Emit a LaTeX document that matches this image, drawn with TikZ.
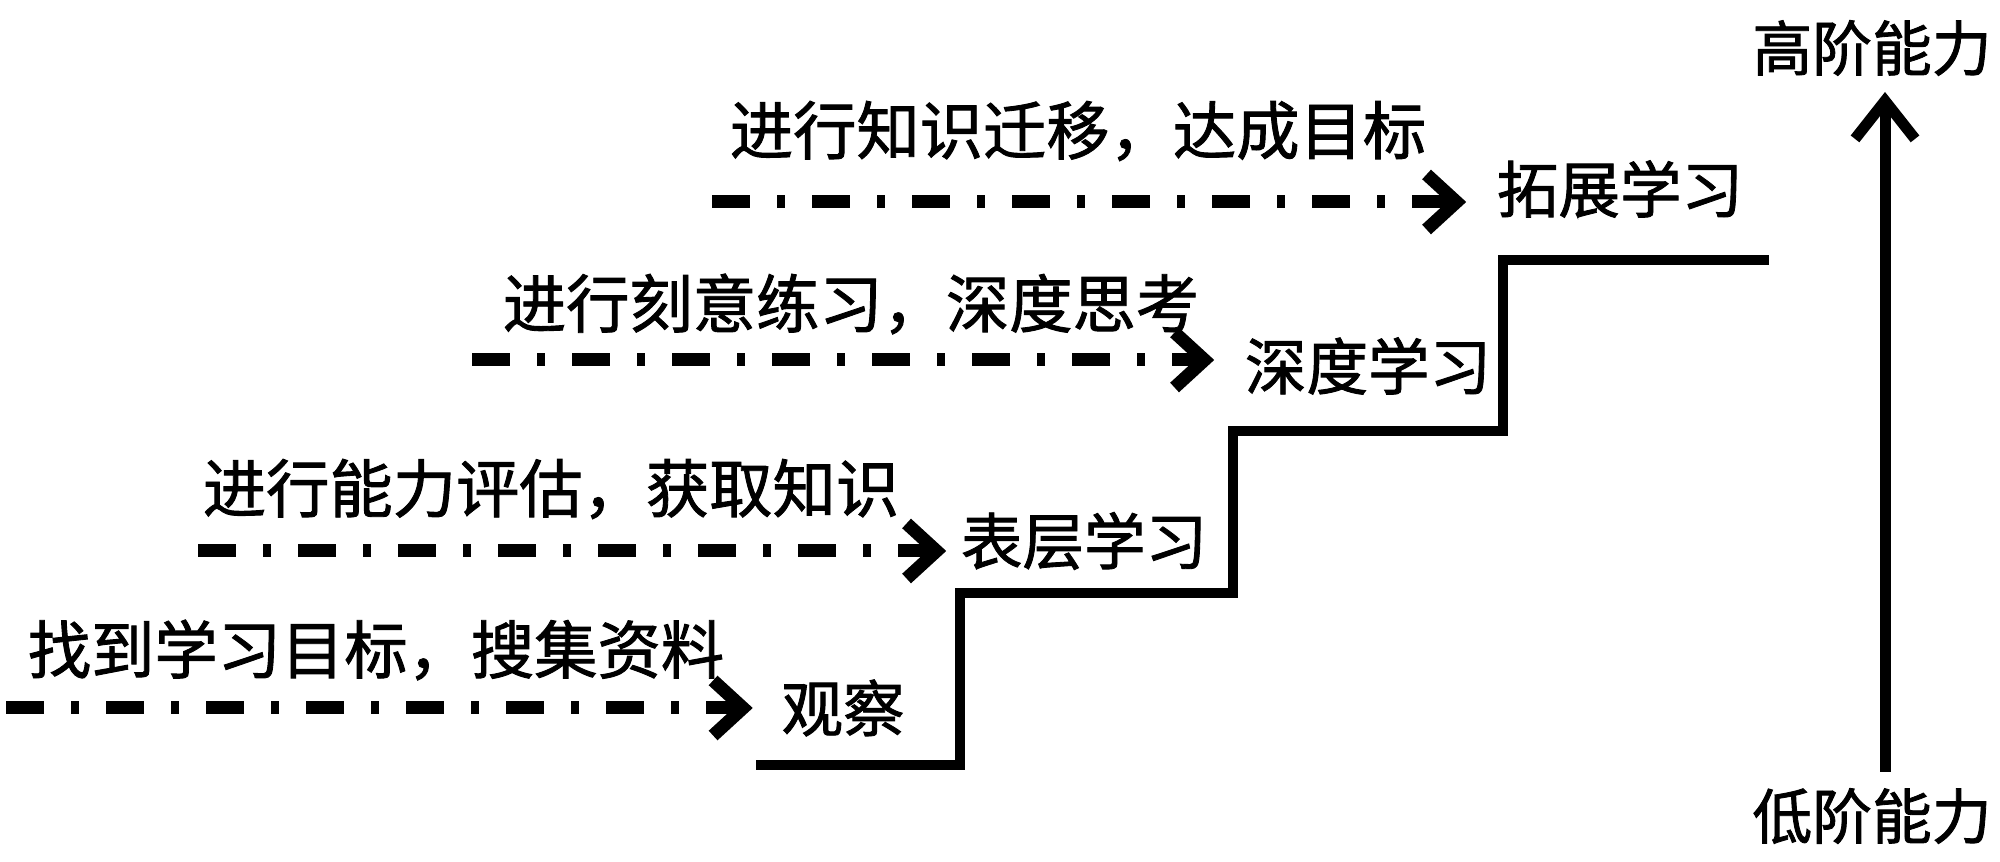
\documentclass[tikz,border=0pt]{standalone}
\usepackage{fontspec}
\newfontfamily\cjk[FakeBold=1.4]{Noto Sans CJK SC}
\usetikzlibrary{arrows.meta}
\begin{document}
\begin{tikzpicture}[x=0.01cm,y=-0.01cm,
  txt/.style={font=\cjk\fontsize{18}{20}\selectfont, inner sep=0pt},
  lbl/.style={font=\cjk\fontsize{17.5}{20}\selectfont, inner sep=0pt},
  axl/.style={font=\cjk\fontsize{17}{20}\selectfont, inner sep=0pt},
  dd/.style={line width=0.13cm, dash pattern=on 0.38cm off 0.27cm on 0.08cm off 0.27cm,
             -{Straight Barb[length=0.3cm,width=0.55cm]}},
  stair/.style={line width=0.10cm, line join=miter},
  axis/.style={line width=0.11cm, -{Straight Barb[length=0.38cm,width=0.6cm]}}]
\useasboundingbox (0,0) rectangle (2000,862);

% staircase
\draw[stair] (756,765) -- (960,765) -- (960,593) -- (1233,593) -- (1233,431)
  -- (1503,431) -- (1503,260) -- (1769,260);

% axis
\node[axl] (high) at (1872,48) {高阶能力};
\node[axl] (low) at (1872,816) {低阶能力};
\coordinate (ab) at (1885,772);
\coordinate (at) at (1885,92);
\draw[axis] (ab) -- (at);

% step 1
\coordinate (s1) at (6,708);
\node[lbl] (obs) at (843,708) {观察};
\node[txt] (t1) at (376,650) {找到学习目标，搜集资料};
\draw[dd] (s1) -- ([xshift=-0.28cm]obs.west);

% step 2
\coordinate (s2) at (198,551);
\node[lbl] (surf) at (1084,541) {表层学习};
\node[txt] (t2) at (551,489) {进行能力评估，获取知识};
\draw[dd] (s2) -- ([xshift=-0.14cm]surf.west |- s2);

% step 3
\coordinate (s3) at (472,360);
\node[lbl] (deep) at (1368,366) {深度学习};
\node[txt] (t3) at (851,304) {进行刻意练习，深度思考};
\draw[dd] (s3) -- ([xshift=-0.30cm]deep.west |- s3);

% step 4
\coordinate (s4) at (712,202);
\node[lbl] (ext) at (1620,189) {拓展学习};
\node[txt] (t4) at (1078,131) {进行知识迁移，达成目标};
\draw[dd] (s4) -- ([xshift=-0.30cm]ext.west |- s4);
\end{tikzpicture}
\end{document}
